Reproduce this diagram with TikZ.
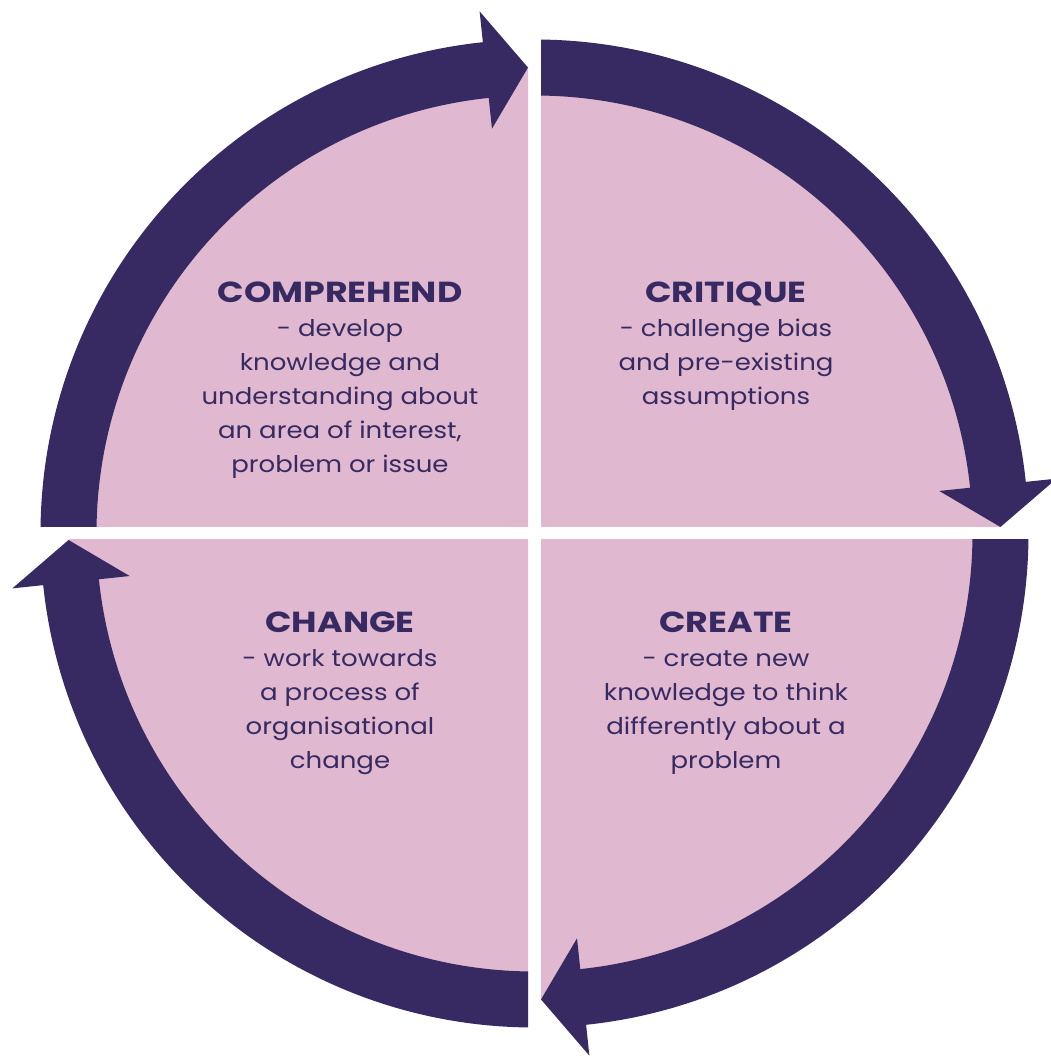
\documentclass[tikz,border=0pt]{standalone}
\usepackage{fontspec}
\setmainfont{Poppins}[FakeStretch=1.13]
\newfontfamily\titlefont{Poppins}[FakeStretch=1.2]
\definecolor{ringpurple}{RGB}{55,41,97}
\definecolor{fillpink}{RGB}{224,185,209}
\tikzset{quadtext/.style={align=center, text=ringpurple, font=\fontsize{23}{34}\selectfont, inner sep=0pt, anchor=north}}
\newcommand{\quadtitle}[1]{{\titlefont\fontsize{29}{34}\selectfont\bfseries #1}}

\begin{document}
\begin{tikzpicture}[x=1pt,y=1pt]
	\useasboundingbox (-534.5,-523.5) rectangle (516.5,533.5);
	\foreach \k in {0,1,2,3} {
		\begin{scope}[rotate=-90*\k]
			\clip (-6.5,6.5) rectangle (-600,600);
			\fill[fillpink] (0,0) -- (180:466) arc[start angle=180,end angle=90,radius=466] -- cycle;
			\fill[ringpurple] (180:494) arc[start angle=180,end angle=96,radius=494] -- (96:525) -- (90.8:466) -- (96:407) -- (96:438) arc[start angle=96,end angle=180,radius=438] -- cycle;
		\end{scope}
	}
	\node[quadtext] (comprehend) at (-194.5,251.5) {\quadtitle{COMPREHEND}\\- develop\\knowledge and\\understanding about\\an area of interest,\\problem or issue};
	\node[quadtext] (critique) at (191.5,251.5) {\quadtitle{CRITIQUE}\\- challenge bias\\and pre-existing\\assumptions};
	\node[quadtext] (change) at (-194.5,-78.5) {\quadtitle{CHANGE}\\- work towards\\a process of\\organisational\\change};
	\node[quadtext] (create) at (191.5,-78.5) {\quadtitle{CREATE}\\- create new\\knowledge to think\\differently about a\\problem};
\end{tikzpicture}
\end{document}
